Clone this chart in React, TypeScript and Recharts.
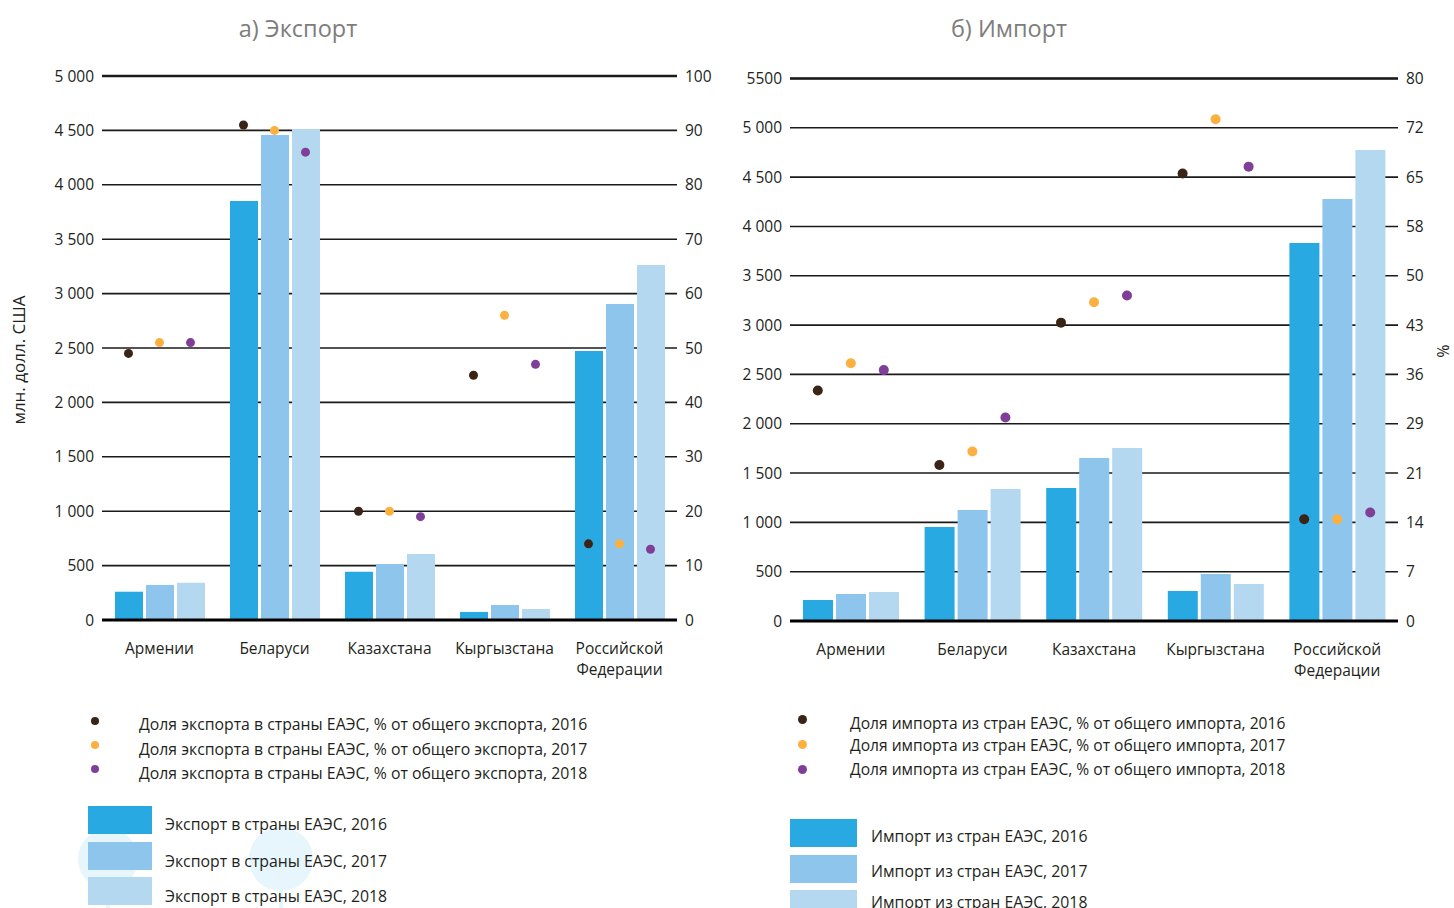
import React from 'react';
import { ComposedChart, Bar, Line, XAxis, YAxis, CartesianGrid, ReferenceLine } from 'recharts';

const FONT = '"Open Sans", "Noto Sans", sans-serif';
const TEXT = '#231f20';
const GRID = '#1a1a1a';

const BAR_COLORS = ['#29a9e1', '#8ec5ec', '#b5d8f1'];
const DOT_COLORS = ['#3a2415', '#fbb040', '#7f3f98'];

const categories = ['Армении', 'Беларуси', 'Казахстана', 'Кыргызстана', 'Российской\nФедерации'];

// Export (млн. долл. США)
const export2016 = [260, 3851, 444, 74, 2472];
const export2017 = [322, 4458, 515, 138, 2904];
const export2018 = [343, 4513, 607, 101, 3263];
// Export share, %
const exportShare2016 = [49, 91, 20, 45, 14];
const exportShare2017 = [51, 90, 20, 56, 14];
const exportShare2018 = [51, 86, 19, 47, 13];

// Import (млн. долл. США)
const import2016 = [213, 953, 1348, 304, 3832];
const import2017 = [274, 1125, 1652, 476, 4278];
const import2018 = [294, 1338, 1754, 375, 4775];
// Import share, %
const importShare2016 = [34, 23, 44, 66, 15];
const importShare2017 = [38, 25, 47, 74, 15];
const importShare2018 = [37, 30, 48, 67, 16];

// Tick values and labels
const exportLeftTicks = [0, 500, 1000, 1500, 2000, 2500, 3000, 3500, 4000, 4500, 5000];
const exportLeftLabels = ['0', '500', '1 000', '1 500', '2 000', '2 500', '3 000', '3 500', '4 000', '4 500', '5 000'];
const exportRightTicks = [0, 10, 20, 30, 40, 50, 60, 70, 80, 90, 100];
const exportRightLabels = ['0', '10', '20', '30', '40', '50', '60', '70', '80', '90', '100'];

const importLeftTicks = [0, 500, 1000, 1500, 2000, 2500, 3000, 3500, 4000, 4500, 5000, 5500];
const importLeftLabels = ['0', '500', '1 000', '1 500', '2 000', '2 500', '3 000', '3 500', '4 000', '4 500', '5 000', '5500'];
const importRightMax = 80;
const importRightLabels = ['0', '7', '14', '21', '29', '36', '43', '50', '58', '65', '72', '80'];
const importRightTicks = importRightLabels.map((_, i) => (importRightMax * i) / (importRightLabels.length - 1));

const exportLegendDots = [
  'Доля экспорта в страны ЕАЭС, % от общего экспорта, 2016',
  'Доля экспорта в страны ЕАЭС, % от общего экспорта, 2017',
  'Доля экспорта в страны ЕАЭС, % от общего экспорта, 2018',
];
const exportLegendBars = ['Экспорт в страны ЕАЭС, 2016', 'Экспорт в страны ЕАЭС, 2017', 'Экспорт в страны ЕАЭС, 2018'];
const importLegendDots = [
  'Доля импорта из стран ЕАЭС, % от общего импорта, 2016',
  'Доля импорта из стран ЕАЭС, % от общего импорта, 2017',
  'Доля импорта из стран ЕАЭС, % от общего импорта, 2018',
];
const importLegendBars = ['Импорт из стран ЕАЭС, 2016', 'Импорт из стран ЕАЭС, 2017', 'Импорт из стран ЕАЭС, 2018'];

const buildRows = (a: number[], b: number[], c: number[], sa: number[], sb: number[], sc: number[]) =>
  categories.map((name, i) => ({ name, v16: a[i], v17: b[i], v18: c[i], s16: sa[i], s17: sb[i], s18: sc[i] }));

const exportRows = buildRows(export2016, export2017, export2018, exportShare2016, exportShare2017, exportShare2018);
const importRows = buildRows(import2016, import2017, import2018, importShare2016, importShare2017, importShare2018);

const XTick = (props: any) => {
  const { x, y, payload } = props;
  const lines = String(payload.value).split('\n');
  return (
    <text x={x} y={y} textAnchor="middle" fontSize={15.5} fill={TEXT} fontFamily={FONT}>
      {lines.map((l, i) => (
        <tspan key={i} x={x} dy={i === 0 ? 26 : 21}>
          {l}
        </tspan>
      ))}
    </text>
  );
};

const makeDot = (color: string, offset: number, r: number) => (props: any) => {
  const { cx, cy, index } = props;
  if (cx == null || cy == null) return <g key={`e-${color}-${index}`} />;
  return <circle key={`d-${color}-${index}`} cx={cx + offset} cy={cy} r={r} fill={color} />;
};

const labelFrom = (ticks: number[], labels: string[]) => (v: number) => {
  const i = ticks.findIndex((t) => Math.abs(t - v) < 1e-6);
  return i >= 0 ? labels[i] : String(v);
};

const tickStyle = { fontSize: 15.5, fill: TEXT, fontFamily: FONT };

type PanelProps = {
  rows: any[];
  width: number;
  height: number;
  top: number;
  leftW: number;
  rightW: number;
  xH: number;
  leftMax: number;
  leftTicks: number[];
  leftLabels: string[];
  rightMax: number;
  rightTicks: number[];
  rightLabels: string[];
  barSize: number;
  barGap: number;
  dotR: number;
};

const Panel = (p: PanelProps) => {
  const step = p.barSize + p.barGap;
  return (
    <ComposedChart
      width={p.width}
      height={p.height}
      data={p.rows}
      margin={{ top: p.top, right: 0, bottom: 0, left: 0 }}
      barGap={p.barGap}
      style={{ fontFamily: FONT }}
    >
      <CartesianGrid vertical={false} stroke={GRID} strokeWidth={1.6} yAxisId="left" />
      <XAxis dataKey="name" axisLine={false} tickLine={false} height={p.xH} tick={<XTick />} interval={0} />
      <YAxis
        yAxisId="left"
        orientation="left"
        width={p.leftW}
        domain={[0, p.leftMax]}
        ticks={p.leftTicks}
        tickFormatter={labelFrom(p.leftTicks, p.leftLabels)}
        axisLine={false}
        tickLine={false}
        tick={tickStyle}
        interval={0}
      />
      <YAxis
        yAxisId="right"
        orientation="right"
        width={p.rightW}
        domain={[0, p.rightMax]}
        ticks={p.rightTicks}
        tickFormatter={labelFrom(p.rightTicks, p.rightLabels)}
        axisLine={false}
        tickLine={false}
        tick={tickStyle}
        interval={0}
      />
      <ReferenceLine yAxisId="left" y={p.leftMax} stroke={GRID} strokeWidth={2.6} />
      <Bar yAxisId="left" dataKey="v16" fill={BAR_COLORS[0]} barSize={p.barSize} isAnimationActive={false} />
      <Bar yAxisId="left" dataKey="v17" fill={BAR_COLORS[1]} barSize={p.barSize} isAnimationActive={false} />
      <Bar yAxisId="left" dataKey="v18" fill={BAR_COLORS[2]} barSize={p.barSize} isAnimationActive={false} />
      <ReferenceLine yAxisId="left" y={0} stroke="#000" strokeWidth={3.2} />
      <Line yAxisId="right" dataKey="s16" stroke="none" dot={makeDot(DOT_COLORS[0], -step, p.dotR)} activeDot={false} isAnimationActive={false} legendType="none" />
      <Line yAxisId="right" dataKey="s17" stroke="none" dot={makeDot(DOT_COLORS[1], 0, p.dotR)} activeDot={false} isAnimationActive={false} legendType="none" />
      <Line yAxisId="right" dataKey="s18" stroke="none" dot={makeDot(DOT_COLORS[2], step, p.dotR)} activeDot={false} isAnimationActive={false} legendType="none" />
    </ComposedChart>
  );
};

const abs = (left: number, top: number, extra: React.CSSProperties = {}): React.CSSProperties => ({
  position: 'absolute',
  left,
  top,
  ...extra,
});

const LegendText = ({ x, y, text, size = 15.8 }: { x: number; y: number; text: string; size?: number }) => (
  <div style={abs(x, y, { fontSize: size, lineHeight: '20px', marginTop: -10, whiteSpace: 'nowrap', color: TEXT, fontFamily: FONT })}>{text}</div>
);

const Dot = ({ x, y, r, color }: { x: number; y: number; r: number; color: string }) => (
  <div style={abs(x - r, y - r, { width: r * 2, height: r * 2, borderRadius: '50%', background: color })} />
);

const Swatch = ({ x, y, w, h, color }: { x: number; y: number; w: number; h: number; color: string }) => (
  <div style={abs(x, y, { width: w, height: h, background: color })} />
);

export default function App() {
  return (
    <div style={{ position: 'absolute', left: 0, top: 0, width: 1454, height: 908, background: '#fff', overflow: 'hidden', fontFamily: FONT }}>
      {/* decorative faint pins behind export legend */}
      <svg style={abs(0, 780)} width={400} height={128}>
        <g transform="translate(0,-780)">
          <circle cx={108} cy={859} r={30} fill="#e6f6fc" />
          <rect x={106} y={885} width={4} height={30} fill="#e6f6fc" />
          <circle cx={281} cy={859} r={32} fill="#e6f6fc" />
          <rect x={279} y={887} width={4} height={30} fill="#e6f6fc" />
        </g>
      </svg>

      {/* titles */}
      <div style={abs(298, 28, { transform: 'translate(-50%, -50%)', fontSize: 23.5, color: '#7d7d7d', whiteSpace: 'nowrap' })}>а) Экспорт</div>
      <div style={abs(1009, 28, { transform: 'translate(-50%, -50%)', fontSize: 23.5, color: '#7d7d7d', whiteSpace: 'nowrap' })}>б) Импорт</div>

      {/* axis titles */}
      <div style={abs(18, 360, { transform: 'translate(-50%, -50%) rotate(-90deg)', fontSize: 17, color: TEXT, whiteSpace: 'nowrap' })}>млн. долл. США</div>
      <div style={abs(1443, 351, { transform: 'translate(-50%, -50%) rotate(90deg)', fontSize: 16, lineHeight: '16px', color: TEXT, whiteSpace: 'nowrap' })}>%</div>

      <div style={abs(0, 0)}>
        <Panel
          rows={exportRows}
          width={730}
          height={700}
          top={76}
          leftW={102}
          rightW={53}
          xH={80}
          leftMax={5000}
          leftTicks={exportLeftTicks}
          leftLabels={exportLeftLabels}
          rightMax={100}
          rightTicks={exportRightTicks}
          rightLabels={exportRightLabels}
          barSize={28}
          barGap={3}
          dotR={4.5}
        />
      </div>
      <div style={abs(730, 0)}>
        <Panel
          rows={importRows}
          width={724}
          height={700}
          top={78.5}
          leftW={60}
          rightW={56}
          xH={79}
          leftMax={5500}
          leftTicks={importLeftTicks}
          leftLabels={importLeftLabels}
          rightMax={importRightMax}
          rightTicks={importRightTicks}
          rightLabels={importRightLabels}
          barSize={30}
          barGap={3}
          dotR={5}
        />
      </div>

      {/* export legend */}
      {exportLegendDots.map((t, i) => (
        <React.Fragment key={`ed${i}`}>
          <Dot x={95} y={[721, 745, 769][i]} r={4} color={DOT_COLORS[i]} />
          <LegendText x={139} y={[724, 749, 773][i]} text={t} />
        </React.Fragment>
      ))}
      {exportLegendBars.map((t, i) => (
        <React.Fragment key={`eb${i}`}>
          <Swatch x={88} y={[806, 842, 877][i]} w={64} h={28} color={BAR_COLORS[i]} />
          <LegendText x={165} y={[824, 861, 896][i]} text={t} />
        </React.Fragment>
      ))}

      {/* import legend */}
      {importLegendDots.map((t, i) => (
        <React.Fragment key={`id${i}`}>
          <Dot x={802} y={[719, 744, 769][i]} r={4.5} color={DOT_COLORS[i]} />
          <LegendText x={850} y={[723, 745, 769][i]} text={t} size={15.6} />
        </React.Fragment>
      ))}
      {importLegendBars.map((t, i) => (
        <React.Fragment key={`ib${i}`}>
          <Swatch x={790} y={[819, 855, 890][i]} w={67} h={28} color={BAR_COLORS[i]} />
          <LegendText x={871} y={[836, 871, 902][i]} text={t} />
        </React.Fragment>
      ))}
    </div>
  );
}
